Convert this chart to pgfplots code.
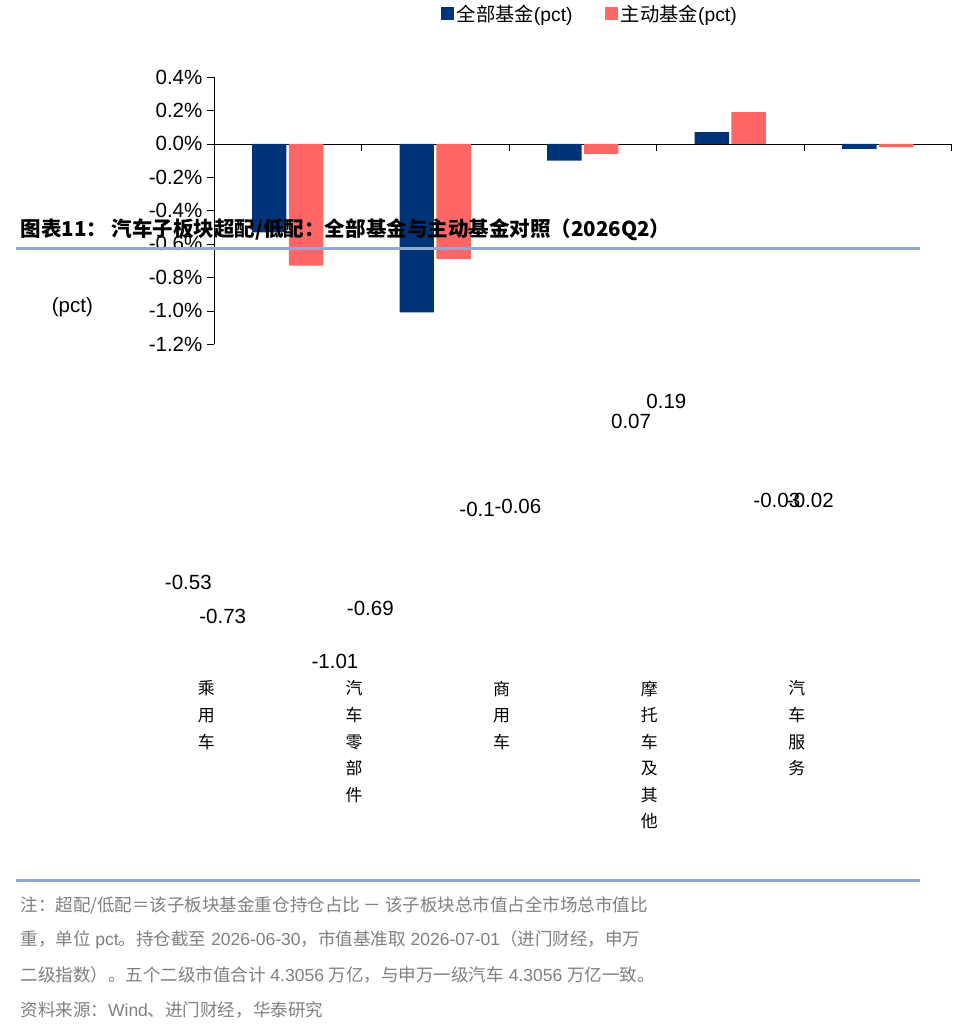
\documentclass[border=0pt]{standalone}
\usepackage{pgfplots}
\pgfplotsset{compat=1.18}
\usepackage{fontspec}
\setmainfont{Liberation Sans}
\newfontfamily\cjk{Noto Sans CJK SC}
\definecolor{navy}{HTML}{003478}
\definecolor{salmon}{HTML}{FF6666}
\definecolor{rule}{HTML}{8FAACC}
\definecolor{foot}{HTML}{7F7F7F}
\begin{document}
\begin{tikzpicture}[x=0.75pt,y=0.75pt]
\path (0,0) rectangle (1036,912);
\begin{axis}[at={(145,415)},anchor=south west,scale only axis,
 width=611pt,height=221pt,
 xmin=-0.5,xmax=4.5,ymin=-1.2,ymax=0.4,
 axis x line=middle, axis y line=left, axis line style={-},
 x axis line style={black}, y axis line style={black},
 xtick={0.5,1.5,2.5,3.5,4.5}, xticklabels={}, xtick style={black},
 major tick length=6pt, tick align=outside,
 ytick={-1.2,-1.0,-0.8,-0.6,-0.4,-0.2,0,0.2,0.4},
 ytick style={black},
 yticklabel={\pgfmathprintnumber[fixed,fixed zerofill,precision=1]{\tick}\%},
 /pgf/number format/assume math mode=true,
 yticklabel style={font=\fontsize{17}{20}\selectfont},
 ybar, bar width=28.5pt,
 legend style={draw=none,at={(0.51,1.237)},anchor=center,legend columns=2,
   font=\fontsize{16}{19}\selectfont,/tikz/every even column/.append style={column sep=25pt}},
 legend image code/.code={\fill[#1] (0,-5pt) rectangle (11pt,6pt);},
 clip=false]
\addplot[fill=navy,draw=none] coordinates {(0,-0.53) (1,-1.01) (2,-0.10) (3,0.07) (4,-0.03)};
\addplot[fill=salmon,draw=none] coordinates {(0,-0.73) (1,-0.69) (2,-0.06) (3,0.19) (4,-0.02)};
\legend{{\cjk 全部基金}(pct),{\cjk 主动基金}(pct)}
\end{axis}
\begin{scope}[shift={(0,912)},y=-0.75pt]
\node[anchor=west,font=\bfseries\fontsize{17}{20}\selectfont\cjk] at (18,22) {图表11： 汽车子板块超配/低配：全部基金与主动基金对照（2026Q2）};
\draw[rule,line width=2.2pt] (18,42) -- (1016,42);
\draw[rule,line width=2.2pt] (18,740) -- (1016,740);
\begin{scope}[every node/.style={font=\fontsize{17}{20}\selectfont}]
\node at (208,411) {-0.53};
\node at (246,449) {-0.73};
\node at (370,498) {-1.01};
\node at (409,440) {-0.69};
\node at (527,331) {-0.1};
\node at (572,327) {-0.06};
\node at (697,233) {0.07};
\node at (736,211) {0.19};
\node at (858,320) {-0.03};
\node at (895,320) {-0.02};
\node at (80,107) {(pct)};
\end{scope}
\begin{scope}[every node/.style={anchor=north,font=\fontsize{14}{22}\selectfont\cjk,align=center}]
\node at (228,515) {乘\\用\\车};
\node at (391,515) {汽\\车\\零\\部\\件};
\node at (554,515) {商\\用\\车};
\node at (717,515) {摩\\托\\车\\及\\其\\他};
\node at (880,515) {汽\\车\\服\\务};
\end{scope}
\begin{scope}[every node/.style={anchor=west,text=foot,font=\fontsize{14.5}{17}\selectfont}]
\node at (18,768) {{\cjk 注：超配/低配＝该子板块基金重仓持仓占比 － 该子板块总市值占全市场总市值比}};
\node at (18,806) {{\cjk 重，单位} pct{\cjk 。持仓截至} 2026-06-30{\cjk ，市值基准取} 2026-07-01{\cjk （进门财经，申万}};
\node at (18,845) {{\cjk 二级指数）。五个二级市值合计} 4.3056 {\cjk 万亿，与申万一级汽车} 4.3056 {\cjk 万亿一致。}};
\node at (18,883) {{\cjk 资料来源：}Wind{\cjk 、进门财经，华泰研究}};
\end{scope}
\end{scope}
\end{tikzpicture}
\end{document}
